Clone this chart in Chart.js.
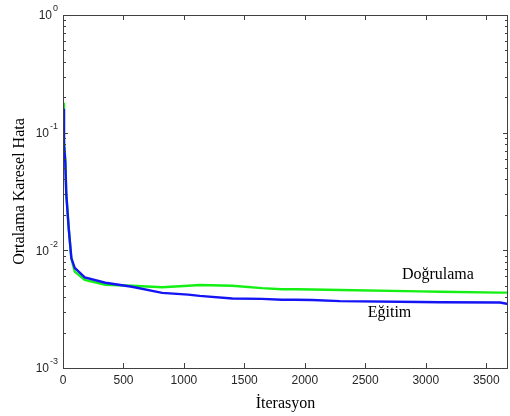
<!DOCTYPE html>
<html lang="tr">
<head>
<meta charset="UTF-8">
<title>Ortalama Karesel Hata</title>
<style>
  html, body { margin: 0; padding: 0; background: #fff; }
  #wrap { width: 510px; height: 416px; }
</style>
<script src="https://cdn.jsdelivr.net/npm/chart.js"></script>
</head>
<body>
<div id="wrap"><canvas id="chart" width="510" height="416"></canvas></div>
<script>
  // values (iteration -> mean squared error)
  const iterations = [0, 8, 19, 27, 47, 69, 97, 180, 350, 570, 820, 1035, 1130, 1400, 1645, 1810, 1920, 2060, 2290, 2950, 3120, 3615, 3680];
  const egitim     = [0.16, 0.079, 0.056, 0.030, 0.0155, 0.0086, 0.0071, 0.0059, 0.0053, 0.0049, 0.00435, 0.0042, 0.0041, 0.0039, 0.00387, 0.0038, 0.0038, 0.00378, 0.0037, 0.00364, 0.00362, 0.0036, 0.0035];
  const dogrulama  = [0.18, 0.085, 0.060, 0.031, 0.0155, 0.0085, 0.0066, 0.0056, 0.0051, 0.0050, 0.00486, 0.0050, 0.00508, 0.0050, 0.00477, 0.00467, 0.00467, 0.00465, 0.0046, 0.00448, 0.00445, 0.00437, 0.00437];

  const xTicks = [0, 500, 1000, 1500, 2000, 2500, 3000, 3500];
  const xMax = 3680;
  const yDecades = [-3, -2, -1, 0];

  const seriesNames = ['Doğrulama', 'Eğitim'];
  const labelAt = [[3100, 0.0062], [2700, 0.00294]];

  const toPoints = vals => vals.map((v, i) => ({ x: iterations[i], y: v }));

  const yTickValues = [];
  yDecades.forEach((e, i) => {
    const last = i === yDecades.length - 1;
    for (let m = 1; m <= (last ? 1 : 9); m++) yTickValues.push(m * Math.pow(10, e));
  });

  const axisColor = '#404040';
  const textColor = '#262626';

  const frame = {
    id: 'frame',
    afterDraw(chart) {
      const { ctx, chartArea: a, scales: { x, y } } = chart;
      ctx.save();
      ctx.strokeStyle = axisColor;
      ctx.lineWidth = 1;
      ctx.strokeRect(a.left + 0.5, a.top + 0.5, a.right - a.left - 1, a.bottom - a.top);

      ctx.beginPath();
      x.ticks.forEach(t => {
        const px = Math.round(x.getPixelForValue(t.value)) + 0.5;
        ctx.moveTo(px, a.bottom); ctx.lineTo(px, a.bottom - 5);
        ctx.moveTo(px, a.top); ctx.lineTo(px, a.top + 5);
      });
      y.ticks.forEach(t => {
        const py = Math.round(y.getPixelForValue(t.value)) + 0.5;
        const len = t.major ? 5 : 3;
        ctx.moveTo(a.left, py); ctx.lineTo(a.left + len, py);
        ctx.moveTo(a.right, py); ctx.lineTo(a.right - len, py);
      });
      ctx.stroke();

      // 10^n labels
      ctx.fillStyle = textColor;
      ctx.textBaseline = 'middle';
      ctx.textAlign = 'right';
      y.ticks.filter(t => t.major).forEach(t => {
        const exp = String(Math.round(Math.log10(t.value)));
        const py = y.getPixelForValue(t.value);
        ctx.font = '9px "Liberation Sans", Arial, sans-serif';
        const ew = ctx.measureText(exp).width;
        ctx.fillText(exp, a.left - 5, py - 6);
        ctx.font = '12px "Liberation Sans", Arial, sans-serif';
        ctx.fillText('10', a.left - 6 - ew, py + 1);
      });

      // curve names
      ctx.fillStyle = '#000';
      ctx.textAlign = 'center';
      ctx.font = '16px "Liberation Serif", "Times New Roman", serif';
      seriesNames.forEach((name, i) => {
        ctx.fillText(name, x.getPixelForValue(labelAt[i][0]), y.getPixelForValue(labelAt[i][1]));
      });
      ctx.restore();
    }
  };

  new Chart(document.getElementById('chart'), {
    type: 'line',
    data: {
      datasets: [
        { label: seriesNames[1], data: toPoints(egitim), borderColor: '#1414f5', borderWidth: 2.4, order: 0 },
        { label: seriesNames[0], data: toPoints(dogrulama), borderColor: '#14f014', borderWidth: 2.4, order: 1 }
      ]
    },
    options: {
      responsive: false,
      animation: false,
      layout: { padding: { top: 15, right: 2, left: 0, bottom: 0 } },
      elements: { point: { radius: 0 }, line: { tension: 0 } },
      plugins: { legend: { display: false }, tooltip: { enabled: false } },
      scales: {
        x: {
          type: 'linear',
          min: 0,
          max: xMax,
          afterBuildTicks: s => { s.ticks = xTicks.map(v => ({ value: v })); },
          afterFit: s => { s.height = 48; },
          grid: { display: false, drawTicks: false },
          border: { display: false },
          ticks: {
            color: textColor,
            padding: 5,
            font: { family: '"Liberation Sans", Arial, sans-serif', size: 12 },
            callback: v => String(v)
          },
          title: {
            display: true,
            text: 'İterasyon',
            color: '#000',
            padding: { top: 0, bottom: 3 },
            font: { family: '"Liberation Serif", "Times New Roman", serif', size: 16 }
          }
        },
        y: {
          type: 'logarithmic',
          min: Math.pow(10, yDecades[0]),
          max: Math.pow(10, yDecades[yDecades.length - 1]),
          afterBuildTicks: s => {
            s.ticks = yTickValues.map(v => ({ value: v, major: Math.abs(Math.log10(v) - Math.round(Math.log10(v))) < 1e-9 }));
          },
          afterFit: s => { s.width = 63; },
          grid: { display: false, drawTicks: false },
          border: { display: false },
          ticks: { display: false },
          title: {
            display: true,
            text: 'Ortalama Karesel Hata',
            color: '#000',
            padding: { top: 10, bottom: 0 },
            font: { family: '"Liberation Serif", "Times New Roman", serif', size: 16 }
          }
        }
      }
    },
    plugins: [frame]
  });
</script>
</body>
</html>
